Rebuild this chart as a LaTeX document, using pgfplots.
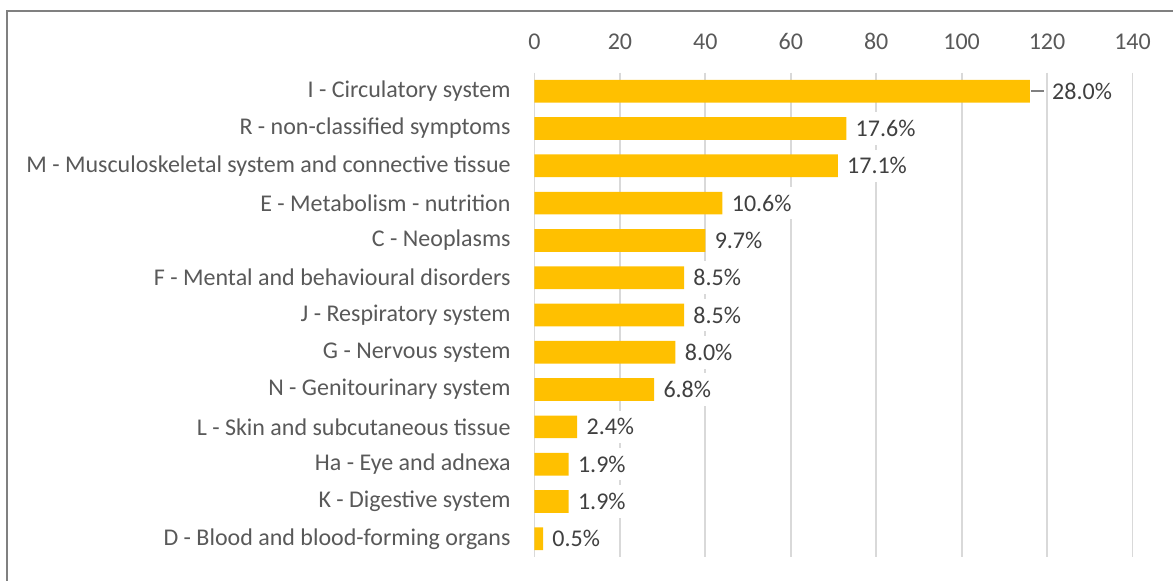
\documentclass[border=0pt]{standalone}
\usepackage{pgfplots}
\pgfplotsset{compat=1.18}
\usepackage{pgfplotstable}
\usepackage{fontspec}
\setmainfont{Carlito}
\definecolor{barc}{HTML}{FFC000}
\definecolor{gridc}{HTML}{D9D9D9}
\definecolor{axtext}{HTML}{595959}
\definecolor{labtext}{HTML}{404040}
\definecolor{framec}{HTML}{808080}

\pgfplotstableread{
y x lx lab
0 116 119.0 28.0
1 73 73 17.6
2 71 71 17.1
3 44 44 10.6
4 40 40 9.7
5 35 35 8.5
6 35 35 8.5
7 33 33 8.0
8 28 28 6.8
9 10 10 2.4
10 8 8 1.9
11 8 8 1.9
12 2 2 0.5
}\data

\begin{document}
\fontsize{12}{14.4}\selectfont
\begin{tikzpicture}
\useasboundingbox (0,0) rectangle (586.5pt,-290.5pt);
\draw[framec, line width=1pt] (3.5pt,-291pt) -- (3.5pt,-5.5pt) -- (587pt,-5.5pt);
\begin{axis}[
  at={(267.25pt,-278.7pt)}, anchor=south west,
  scale only axis,
  width=299pt, height=242.4pt,
  xmin=0, xmax=140,
  ymin=-0.5, ymax=12.5,
  y dir=reverse,
  xtick={0,20,...,140},
  xticklabel pos=top,
  ytick={0,...,12},
  yticklabels={I - Circulatory system, R - non-classified symptoms, M - Musculoskeletal system and connective tissue, E - Metabolism - nutrition, C - Neoplasms, F - Mental and behavioural disorders, J - Respiratory system, G - Nervous system, N - Genitourinary system, L - Skin and subcutaneous tissue, Ha - Eye and adnexa, K - Digestive system, D - Blood and blood-forming organs},
  major tick length=0pt,
  axis line style={draw=none},
  xmajorgrids,
  grid style={gridc, line width=0.9pt},
  /pgf/number format/assume math mode=true,
  tick label style={text=axtext, font=\fontsize{12}{14.4}\selectfont},
  xticklabel style={anchor=center, yshift=15.5pt},
  yticklabel style={anchor=east, inner sep=0pt, xshift=-11.75pt},
  clip=false,
]
\addplot[xbar, fill=barc, draw=none, bar width=11.35pt] table[x=x, y=y] {\data};
\addplot[gray, line width=0.8pt, forget plot] coordinates {(116.2,0) (119.3,0)};
\addplot[only marks, mark=none, nodes near coords, point meta=explicit symbolic,
  nodes near coords={\pgfplotspointmeta\%},
  every node near coord/.append style={anchor=west, fill=white, inner xsep=1.5pt, inner ysep=4pt, xshift=3pt, text=labtext, font=\fontsize{12}{14.4}\selectfont}]
  table[x=lx, y=y, meta=lab] {\data};
\end{axis}
\end{tikzpicture}
\end{document}
